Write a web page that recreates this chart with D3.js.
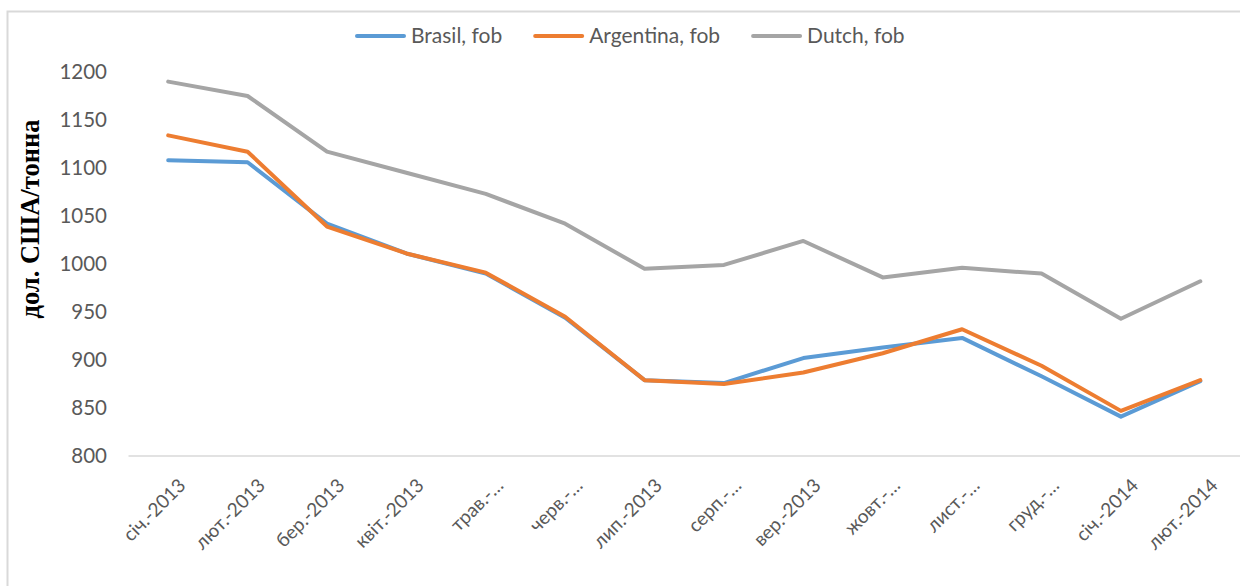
<!DOCTYPE html>
<html>
<head>
<meta charset="utf-8">
<script src="https://cdn.jsdelivr.net/npm/d3@7"></script>
<style>
  body { margin: 0; background: #fff; }
  svg { display: block; }
</style>
</head>
<body>
<div id="chart"></div>
<script>
// categories (months)
var months = ['січ.-2013', 'лют.-2013', 'бер.-2013', 'квіт.-2013', 'трав.-…', 'черв.-…', 'лип.-2013',
  'серп.-…', 'вер.-2013', 'жовт.-…', 'лист.-…', 'груд.-…', 'січ.-2014', 'лют.-2014']

// series values, USD per tonne
var brasil = [1108, 1106, 1042, 1011, 990, 944, 879, 876, 902, 913, 923, 883, 841, 878]
var argentina = [1134, 1117, 1039, 1011, 991, 945, 879, 875, 887, 907, 932, 894, 847, 879]
var dutch = [1190, 1175, 1117, 1095, 1073, 1042, 995, 999, 1024, 986, 996, 990, 943, 982]

var seriesNames = ['Brasil, fob', 'Argentina, fob', 'Dutch, fob']
var yTicks = [800, 850, 900, 950, 1000, 1050, 1100, 1150, 1200]

var colors = ['#5b9bd5', '#ed7d31', '#a5a5a5']

var width = 1240
var height = 586
var margin = { top: 72, left: 128.5, right: 0, bottom: 130 }

var svg = d3.select('#chart')
  .append('svg')
  .attr('width', width)
  .attr('height', height)

// chart border (only left and top show in the picture)
svg.append('rect')
  .attr('x', 7.5)
  .attr('y', 11.5)
  .attr('width', 1260)
  .attr('height', 620)
  .attr('fill', 'none')
  .attr('stroke', '#d9d9d9')
  .attr('stroke-width', 2)

var xPositionScale = d3.scaleBand()
  .domain(months)
  .range([margin.left, width - margin.right])
  .padding(0)

var yPositionScale = d3.scaleLinear()
  .domain([800, 1200])
  .range([456, 72])

var xc = function(d) { return xPositionScale(d) + xPositionScale.bandwidth() / 2 }

// baseline
svg.append('line')
  .attr('x1', margin.left)
  .attr('x2', width)
  .attr('y1', yPositionScale(800))
  .attr('y2', yPositionScale(800))
  .attr('stroke', '#d9d9d9')
  .attr('stroke-width', 1.5)

// y ticks
var yAxis = d3.axisLeft(yPositionScale)
  .tickValues(yTicks)
  .tickFormat(d3.format('d'))
  .tickSize(0)
  .tickPadding(0)
var yG = svg.append('g')
  .attr('transform', 'translate(107,0)')
  .call(yAxis)
yG.select('.domain').remove()
yG.selectAll('text')
  .attr('fill', '#595959')
  .style('font-family', 'Lato, sans-serif')
  .style('font-size', '20.5px')

// x labels
var xAxis = d3.axisBottom(xPositionScale).tickSize(0).tickPadding(0)
var xG = svg.append('g')
  .attr('transform', 'translate(0,' + yPositionScale(800) + ')')
  .call(xAxis)
xG.select('.domain').remove()
xG.selectAll('text')
  .attr('fill', '#595959')
  .style('font-family', 'Lato, sans-serif')
  .style('font-size', '19px')
  .attr('text-anchor', 'end')
  .attr('transform', 'translate(14,26) rotate(-45)')
  .attr('dy', '0.35em')
  .attr('y', 0)

// y title
svg.append('text')
  .attr('transform', 'translate(39,219) rotate(-90)')
  .attr('text-anchor', 'middle')
  .style('font-family', '"Liberation Serif", "Times New Roman", serif')
  .style('font-weight', 'bold')
  .style('font-size', '26.5px')
  .attr('fill', '#000')
  .text('дол. США/тонна')

// lines
var allSeries = [brasil, argentina, dutch]
var line = d3.line()
  .x(function(d, i) { return xc(months[i]) })
  .y(function(d) { return yPositionScale(d) })

svg.selectAll('.series')
  .data(allSeries)
  .enter()
  .append('path')
  .attr('class', 'series')
  .attr('d', line)
  .attr('fill', 'none')
  .attr('stroke', function(d, i) { return colors[i] })
  .attr('stroke-width', 4)
  .attr('stroke-linejoin', 'round')
  .attr('stroke-linecap', 'round')

// legend
var legend = svg.append('g').attr('transform', 'translate(357,36)')
var lx = 0
seriesNames.forEach(function(name, i) {
  var g = legend.append('g').attr('transform', 'translate(' + lx + ',0)')
  g.append('line')
    .attr('x1', 0)
    .attr('x2', 47)
    .attr('stroke', colors[i])
    .attr('stroke-width', 4)
    .attr('stroke-linecap', 'round')
  var t = g.append('text')
    .attr('x', 54)
    .attr('dy', '0.35em')
    .attr('fill', '#595959')
    .style('font-family', 'Lato, sans-serif')
    .style('font-size', '21px')
    .text(name)
  lx += 54 + t.node().getComputedTextLength() + 33
})
</script>
</body>
</html>
